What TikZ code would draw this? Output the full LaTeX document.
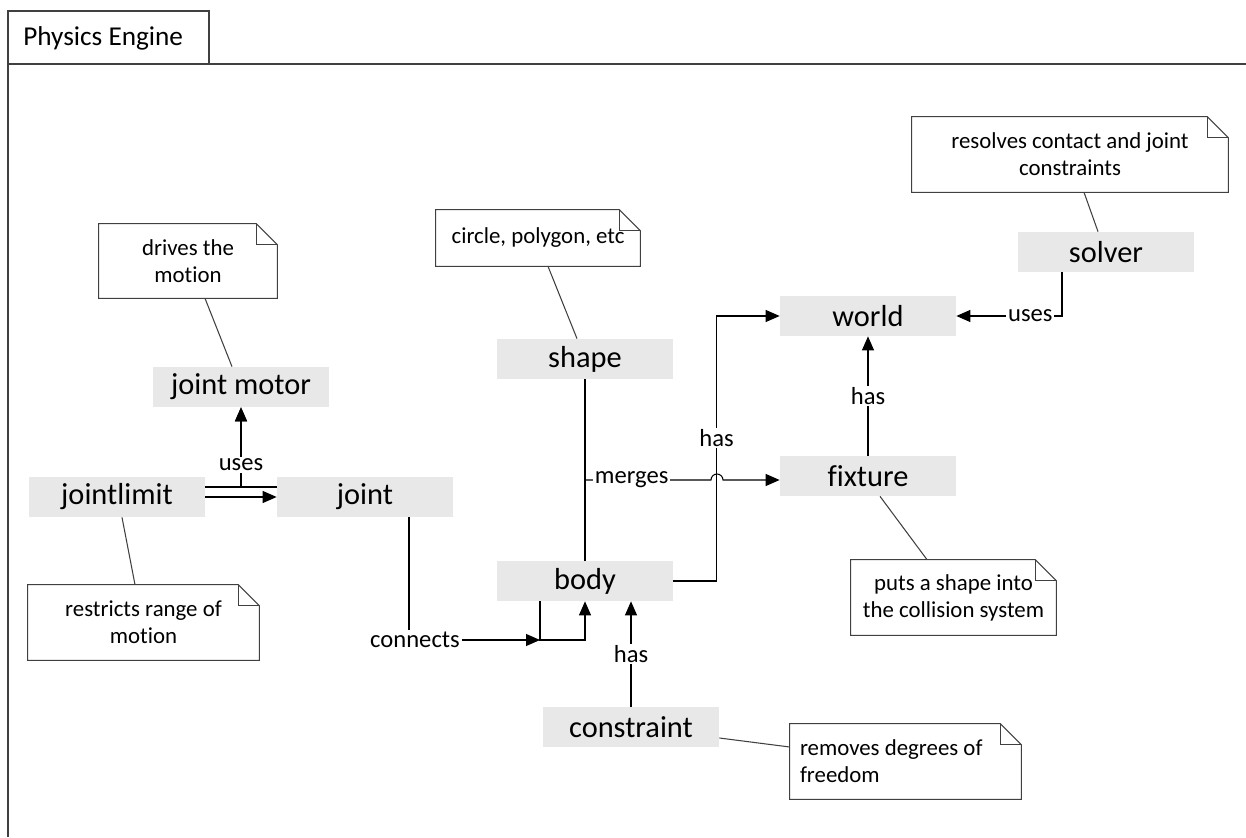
\documentclass[tikz,border=0pt]{standalone}
\usepackage{fontspec}
\setmainfont{Carlito}[Ligatures=NoCommon]
\usetikzlibrary{arrows.meta}

% note outline with folded corner
\newcommand\drawnote[1]{%
  \draw [noteline] (#1.south west) -- (#1.north west) -- ([xshift=-0.42cm]#1.north east) -- ([yshift=-0.42cm]#1.north east) -- (#1.south east) -- cycle;%
  \draw [noteline] ([xshift=-0.42cm]#1.north east) |- ([yshift=-0.42cm]#1.north east);%
}

\begin{document}
\begin{tikzpicture}[
    cls/.style={fill=black!9, minimum width=3.52cm, minimum height=0.80cm, inner sep=0pt, font=\fontsize{17.3}{20}\selectfont},
    note/.style={inner sep=0pt, align=center, font=\fontsize{13}{15.4}\selectfont},
    noteline/.style={line width=0.6pt, draw=black!75},
    lbl/.style={fill=white, inner sep=1pt, font=\fontsize{14}{15.4}\selectfont},
    assoc/.style={line width=0.6pt, -{Triangle[length=0.28cm, width=0.24cm]}},
    plain/.style={line width=0.6pt},
    frame/.style={line width=0.6pt, draw=black!75}
]
\useasboundingbox (0,0) rectangle (24.920000,16.740000);
{

% Drawing frame and tab
\draw [frame] (0.160000,0.000000) -- (0.160000,16.520000) -- (4.180000,16.520000) -- (4.180000,15.460000);%
\draw [frame] (0.160000,15.460000) -- (24.920000,15.460000);%
\node [anchor=west, inner sep=0pt, font=\fontsize{15.5}{18}\selectfont] (title) at (0.460000,15.980000) {Physics Engine};%

% Drawing classes
\node [cls] (jointlimit) at (2.340000,6.800000) {jointlimit};%
\node [cls] (joint) at (7.300000,6.800000) {joint};%
\node [cls] (jointmotor) at (4.820000,9.000000) {joint motor};%
\node [cls] (shape) at (11.700000,9.560000) {shape};%
\node [cls] (body) at (11.700000,5.120000) {body};%
\node [cls] (constraint) at (12.620000,2.200000) {constraint};%
\node [cls] (world) at (17.360000,10.420000) {world};%
\node [cls] (fixture) at (17.360000,7.220000) {fixture};%
\node [cls] (solver) at (22.120000,11.700000) {solver};%

% Drawing notes
\node [note, minimum width=3.56cm, minimum height=1.48cm] (drivesnote) at (3.760000,11.520000) {drives the\\motion};%
\drawnote{drivesnote}
\node [note, minimum width=4.08cm, minimum height=1.12cm] (shapenote) at (10.760000,11.980000) {circle, polygon, etc};%
\drawnote{shapenote}
\node [note, minimum width=6.32cm, minimum height=1.50cm] (solvernote) at (21.400000,13.650000) {resolves contact and joint\\constraints};%
\drawnote{solvernote}
\node [note, minimum width=4.62cm, minimum height=1.50cm] (limitnote) at (2.870000,4.290000) {restricts range of\\motion};%
\drawnote{limitnote}
\node [note, minimum width=4.10cm, minimum height=1.50cm] (fixturenote) at (19.070000,4.790000) {puts a shape into\\the collision system};%
\drawnote{fixturenote}
\node [note, align=flush left, text width=4.22cm, inner xsep=0.20cm, minimum height=1.50cm] (constraintnote) at (18.110000,1.510000) {removes degrees of\\freedom};%
\drawnote{constraintnote}

% Drawing note anchors
\draw [noteline] ([xshift=0.34cm]drivesnote.south) -- ([xshift=-0.18cm]jointmotor.north);%
\draw [noteline] ([xshift=0.20cm]shapenote.south) -- ([xshift=-0.16cm]shape.north);%
\draw [noteline] ([xshift=0.28cm]solvernote.south) -- ([xshift=-0.16cm]solver.north);%
\draw [noteline] ([xshift=-0.17cm]limitnote.north) -- ([xshift=0.10cm]jointlimit.south);%
\draw [noteline] ([xshift=-0.53cm]fixturenote.north) -- ([xshift=0.24cm]fixture.south);%
\draw [noteline] ([yshift=-0.22cm]constraint.east) -- ([yshift=0.29cm]constraintnote.west);%

% Drawing uses (joint motor)
\draw [assoc] ([yshift=0.20cm]joint.west) -| (jointmotor.south);%
\draw [assoc] ([yshift=0.20cm]jointlimit.east) -| node [lbl, pos=0.64] {uses} (jointmotor.south);%

% Drawing jointlimit to joint
\draw [assoc] (jointlimit.east) -- (joint.west);%

% Drawing connects
\coordinate (conn) at (10.800000,3.940000);
\draw [assoc] ([xshift=0.88cm]joint.south) |- node [lbl, pos=0.5, xshift=0.12cm] {connects} (conn);%
\draw [assoc] ([xshift=-0.90cm]body.south) -- (conn) -| (body.south);%

% Drawing constraint has
\draw [assoc] (constraint.north) -- node [lbl] {has} (constraint.north |- body.south);%

% Drawing body has world
\draw [assoc] (body.east) -| node [lbl, pos=0.77] {has} ([xshift=-1.26cm]world.west) -- (world.west);%

% Drawing merges
\coordinate (mrg) at (11.700000,7.140000);
\draw [plain] (shape) -- (body);%
\draw [assoc] (mrg) -- node [lbl, pos=0.37] {merges} ++(2.52,0) arc [start angle=180, end angle=0, radius=0.12] -- ([yshift=-0.08cm]fixture.west);%

% Drawing fixture has
\draw [assoc] (fixture) -- node [lbl] {has} (world);%

% Drawing solver uses
\draw [assoc] ([xshift=-0.88cm]solver.south) |- node [lbl, pos=0.65] {uses} (world.east);%
}
\end{tikzpicture}
\end{document}
